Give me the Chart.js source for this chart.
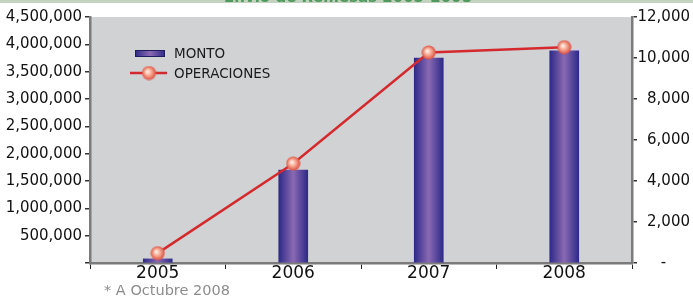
<!DOCTYPE html>
<html lang="es">
<head>
  <meta charset="UTF-8" />
  <title>Envío de Remesas 2005-2008</title>
  <script src="https://cdn.jsdelivr.net/npm/chart.js"></script>
  <style>
    html, body { margin: 0; padding: 0; background: #ffffff; }
    #wrap { width: 693px; height: 300px; position: relative; }
  </style>
</head>
<body>
  <div id="wrap"><canvas id="remesas"></canvas></div>

  <script>
    // data
    const years = ['2005', '2006', '2007', '2008'];
    const monto = [75000, 1700000, 3750000, 3880000];
    const operaciones = [480, 4850, 10270, 10530];
    const montoTicks = [0, 500000, 1000000, 1500000, 2000000, 2500000, 3000000, 3500000, 4000000, 4500000];
    const operTicks = [0, 2000, 4000, 6000, 8000, 10000, 12000];

    const FONT = 'DejaVu Sans';

    // bar fill: dark navy edges, light purple middle
    function barGradient(ctx, left, right) {
      const g = ctx.createLinearGradient(left, 0, right, 0);
      g.addColorStop(0, '#2d2a89');
      g.addColorStop(0.5, '#8a69b2');
      g.addColorStop(1, '#2d2a89');
      return g;
    }

    // little shaded ball for the line markers
    function makeBall(size) {
      const c = document.createElement('canvas');
      c.width = size; c.height = size;
      const x = c.getContext('2d');
      const r = size / 2;
      const g = x.createRadialGradient(r - 1.5, r - 1.5, 0.5, r, r, r);
      g.addColorStop(0, '#fff0e6');
      g.addColorStop(0.45, '#f6a48e');
      g.addColorStop(1, '#d8463a');
      x.fillStyle = g;
      x.beginPath();
      x.arc(r, r, r - 0.5, 0, Math.PI * 2);
      x.fill();
      return c;
    }
    const ball = makeBall(15);

    const decorations = {
      id: 'decorations',
      beforeDraw(chart) {
        const { ctx, chartArea: a } = chart;
        ctx.save();
        ctx.fillStyle = '#d1d2d4';
        ctx.fillRect(a.left, a.top, a.right - a.left, a.bottom - a.top);
        // cropped title band at the very top
        ctx.fillStyle = '#c4d2c0';
        ctx.fillRect(0, 0, chart.width, 3);
        ctx.fillStyle = '#4f9a5c';
        ctx.font = 'bold 15px ' + FONT;
        ctx.textAlign = 'center';
        ctx.textBaseline = 'alphabetic';
        ctx.fillText('Envío de Remesas 2005-2008', 348, 2);
        ctx.restore();
      },
      afterDraw(chart) {
        const { ctx } = chart;
        const ds = chart.data.datasets;
        ctx.save();
        // legend
        ctx.fillStyle = barGradient(ctx, 135, 165);
        ctx.fillRect(135, 50, 30, 7);
        ctx.strokeStyle = '#1f1d5e';
        ctx.lineWidth = 1;
        ctx.strokeRect(135.5, 50.5, 29, 6);
        ctx.strokeStyle = '#d42a2e';
        ctx.lineWidth = 2.5;
        ctx.beginPath();
        ctx.moveTo(130, 73);
        ctx.lineTo(167, 73);
        ctx.stroke();
        ctx.drawImage(ball, 149 - 7.5, 73 - 7.5);
        ctx.fillStyle = '#1a1a1a';
        ctx.font = '13.5px ' + FONT;
        ctx.textAlign = 'left';
        ctx.textBaseline = 'middle';
        ctx.fillText(ds[0].label, 174, 54);
        ctx.fillText(ds[1].label, 174, 74);
        // footnote
        ctx.fillStyle = '#8c8c8c';
        ctx.font = '14.5px ' + FONT;
        ctx.textBaseline = 'alphabetic';
        ctx.fillText('* A Octubre 2008', 104, 295);
        ctx.restore();
      }
    };

    new Chart(document.getElementById('remesas'), {
      type: 'bar',
      data: {
        labels: years,
        datasets: [
          {
            type: 'bar',
            label: 'MONTO',
            data: monto,
            yAxisID: 'y',
            order: 1,
            barThickness: 29,
            backgroundColor: (c) => {
              const xs = c.chart.scales.x;
              if (!xs || c.dataIndex === undefined) return '#5a4a9e';
              const cx = xs.getPixelForValue(c.dataIndex);
              if (!Number.isFinite(cx)) return '#5a4a9e';
              return barGradient(c.chart.ctx, cx - 14.5, cx + 14.5);
            }
          },
          {
            type: 'line',
            label: 'OPERACIONES',
            data: operaciones,
            yAxisID: 'y1',
            order: 0,
            borderColor: '#d42a2e',
            borderWidth: 2.5,
            pointStyle: ball,
            pointRadius: 7,
            tension: 0
          }
        ]
      },
      options: {
        responsive: true,
        maintainAspectRatio: false,
        animation: false,
        layout: { padding: { top: 17, right: 3, left: 0, bottom: 0 } },
        plugins: {
          legend: { display: false },
          tooltip: { enabled: false }
        },
        scales: {
          x: {
            offset: true,
            grid: { offset: true, drawOnChartArea: false, tickLength: 6, color: '#222', lineWidth: 1 },
            border: { color: '#7b7b7b', width: 2.5 },
            ticks: { color: '#111', font: { family: FONT, size: 17 }, padding: -6 },
            afterFit: (s) => { s.height = 37; }
          },
          y: {
            position: 'left',
            min: 0,
            max: montoTicks[montoTicks.length - 1],
            afterBuildTicks: (s) => { s.ticks = montoTicks.map(v => ({ value: v })); },
            grid: { drawOnChartArea: false, tickLength: 5, color: '#333', lineWidth: 1.5 },
            border: { color: '#7b7b7b', width: 2.5 },
            ticks: {
              color: '#111',
              padding: 3,
              font: { family: FONT, size: 15 },
              callback: (v) => v === 0 ? '' : v.toLocaleString('en-US')
            },
            afterFit: (s) => { s.width = 90; }
          },
          y1: {
            position: 'right',
            min: 0,
            max: operTicks[operTicks.length - 1],
            afterBuildTicks: (s) => { s.ticks = operTicks.map(v => ({ value: v })); },
            grid: { drawOnChartArea: false, tickLength: 5, color: '#333', lineWidth: 1.5 },
            border: { color: '#7b7b7b', width: 2.5 },
            ticks: {
              color: '#111',
              crossAlign: 'far',
              font: { family: FONT, size: 15 },
              callback: (v) => v === 0 ? '-     ' : v.toLocaleString('en-US')
            },
            afterFit: (s) => { s.width = 58; }
          }
        }
      },
      plugins: [decorations]
    });
  </script>
</body>
</html>
